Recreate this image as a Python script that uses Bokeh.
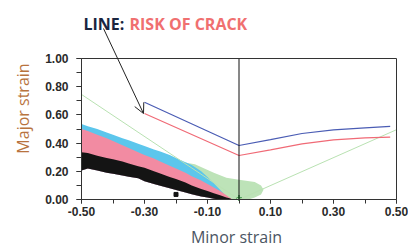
import math
from bokeh.plotting import figure
from bokeh.models import (Range1d, FixedTicker, NumeralTickFormatter, LinearAxis, Arrow, OpenHead)
from bokeh.core.properties import value
from bokeh.embed import file_html
from bokeh.resources import INLINE

# ---------------- data ----------------
blue_x = [-0.30, 0.00, 0.10, 0.20, 0.30, 0.40, 0.48]
blue_y = [0.69, 0.383, 0.425, 0.468, 0.494, 0.508, 0.518]
red_x = [-0.30, 0.00, 0.10, 0.20, 0.30, 0.40, 0.48]
red_y = [0.61, 0.312, 0.352, 0.395, 0.423, 0.437, 0.442]

green_line_x = [-0.50, 0.00, 0.50]
green_line_y = [0.745, 0.0, 0.495]

# measured point clouds (edges), on a common minor-strain grid
cloud_x = [-0.50, -0.48, -0.45, -0.42, -0.40, -0.37, -0.35, -0.32, -0.30, -0.27, -0.25,
           -0.22, -0.20, -0.17, -0.15, -0.12, -0.10, -0.08, -0.06, -0.04, -0.03, -0.02]
cyan_top = [0.535, 0.52, 0.50, 0.475, 0.46, 0.435, 0.42, 0.395, 0.38, 0.355, 0.34,
            0.315, 0.295, 0.265, 0.245, 0.20, 0.16, 0.115, 0.07, 0.02, 0.005, 0.0]
pink_top = [0.50, 0.485, 0.46, 0.435, 0.415, 0.385, 0.365, 0.335, 0.315, 0.29, 0.27,
            0.24, 0.22, 0.19, 0.165, 0.135, 0.11, 0.085, 0.06, 0.03, 0.015, 0.0]
black_top = [0.335, 0.33, 0.31, 0.295, 0.285, 0.27, 0.255, 0.235, 0.225, 0.20, 0.185,
             0.16, 0.145, 0.12, 0.10, 0.075, 0.06, 0.045, 0.03, 0.015, 0.008, 0.0]
black_bot = [0.205, 0.22, 0.205, 0.19, 0.182, 0.17, 0.162, 0.15, 0.13, 0.11, 0.098,
             0.08, 0.068, 0.05, 0.037, 0.022, 0.014, 0.006, 0.0, 0.0, 0.0, 0.0]
stray_x = [-0.20]
stray_y = [0.036]

blob_x = [-0.19, -0.14, -0.08, -0.04, 0.00, 0.05, 0.07, 0.078, 0.07, 0.05, 0.03, -0.05]
blob_y = [0.27, 0.25, 0.19, 0.155, 0.14, 0.125, 0.10, 0.07, 0.035, 0.015, 0.0, 0.0]
mark_x = [0.0]
mark_y = [0.01]

divider_x = [0.0]
divider_y0 = [0.0]
divider_y1 = [1.0]

x_lim = (-0.5, 0.5)
y_lim = (0.0, 1.0)
x_ticks = [-0.5, -0.3, -0.1, 0.1, 0.3, 0.5]
x_minor = [-0.5, -0.4, -0.3, -0.2, -0.1, 0.0, 0.1, 0.2, 0.3, 0.4, 0.5]
y_ticks = [0.0, 0.2, 0.4, 0.6, 0.8, 1.0]
y_minor = [0.0, 0.1, 0.2, 0.3, 0.4, 0.5, 0.6, 0.7, 0.8, 0.9, 1.0]

title_a = "LINE:"
title_b = "RISK OF CRACK"
x_title = "Minor strain"
y_title = "Major strain"

# ---------------- layout (pixels -> data) ----------------
W, H = 408, 246
FL, FR, FT, FB = 81, 396, 58, 199     # chart box in pixels
sx = (x_lim[1] - x_lim[0]) / (FR - FL)
sy = (y_lim[1] - y_lim[0]) / (FB - FT)
def dx(px):
    return x_lim[0] + (px - FL) * sx
def dy(py):
    return y_lim[0] + (FB - py) * sy

p = figure(width=W, height=H, output_backend="svg", toolbar_location=None,
           x_range=Range1d(dx(0), dx(W)), y_range=Range1d(dy(H), dy(0)),
           x_axis_location=None, y_axis_location=None, min_border=0)
p.background_fill_color = "white"
p.border_fill_color = "white"
p.outline_line_color = None
p.grid.visible = False

# clouds
p.patch(blob_x, blob_y, fill_color="#bde3b8", line_color=None)
p.varea(x=cloud_x, y1=black_bot, y2=cyan_top, fill_color="#5cc6ec")
p.varea(x=cloud_x, y1=black_bot, y2=pink_top, fill_color="#f28ba2")
p.varea(x=cloud_x, y1=black_bot, y2=black_top, fill_color="#141414")
p.scatter(stray_x, stray_y, marker="square", size=4, color="#141414")
p.scatter(mark_x, mark_y, marker="cross", size=6, color="#2e8b3a", line_width=1.5)

# lines
p.line(green_line_x, green_line_y, line_color="#b9e2b2", line_width=1)
p.line(blue_x, blue_y, line_color="#4a5cb4", line_width=1.2)
p.line(red_x, red_y, line_color="#f06a76", line_width=1.2)
p.segment(x0=divider_x, y0=divider_y0, x1=divider_x, y1=divider_y1, line_color="#111111", line_width=1)

# axes at fixed locations forming the chart box
def style(ax):
    ax.axis_line_color = "#333333"
    ax.major_tick_line_color = "#333333"
    ax.minor_tick_line_color = "#333333"
    ax.major_label_text_font = "Liberation Sans"
    ax.major_label_text_font_style = "bold"
    ax.major_label_text_font_size = "12px"
    ax.major_label_text_color = "#2a2a2a"
    ax.formatter = NumeralTickFormatter(format="0.00")

xa = LinearAxis(fixed_location=y_lim[0], bounds=x_lim,
                ticker=FixedTicker(ticks=x_ticks, minor_ticks=x_minor))
style(xa)
xa.major_tick_out = 4
xa.major_tick_in = 0
xa.minor_tick_out = 4
xa.minor_tick_in = 0
xa.major_label_standoff = 3
p.add_layout(xa, "below")

ya = LinearAxis(fixed_location=x_lim[0], bounds=y_lim,
                ticker=FixedTicker(ticks=y_ticks, minor_ticks=y_minor))
style(ya)
ya.major_tick_out = 5
ya.major_tick_in = 0
ya.minor_tick_out = 5
ya.minor_tick_in = 0
ya.major_label_standoff = 8
p.add_layout(ya, "left")

for loc, bnd, side in ((x_lim[1], y_lim, "right"), (y_lim[1], x_lim, "above")):
    ax = LinearAxis(fixed_location=loc, bounds=bnd, ticker=FixedTicker(ticks=[]))
    ax.axis_line_color = "#333333"
    ax.major_tick_line_color = None
    ax.minor_tick_line_color = None
    ax.major_label_text_font_size = "0px"
    p.add_layout(ax, side)

# axis titles
p.text(x=[dx(236)], y=[dy(236)], text=[x_title], text_align="center", text_baseline="alphabetic",
       text_font=value("Open Sans"), text_font_size="16px", text_color="#4b5563")
p.text(x=[dx(22)], y=[dy(108)], text=[y_title], angle=math.pi / 2, text_align="center",
       text_baseline="middle", text_font=value("Open Sans"), text_font_size="16px",
       text_color="#b8733e")

# title texts
p.text(x=[dx(83)], y=[dy(23)], text=[title_a], text_baseline="alphabetic",
       text_font=value("Open Sans"), text_font_style="bold", text_font_size="16px",
       text_color="#1a2540")
p.text(x=[dx(129)], y=[dy(23)], text=[title_b], text_baseline="alphabetic",
       text_font=value("Open Sans"), text_font_style="bold", text_font_size="16px",
       text_color="#f07070")

# arrow
p.add_layout(Arrow(end=OpenHead(size=10, line_width=1, line_color="#222222"),
                   x_start=dx(103), y_start=dy(28), x_end=dx(143), y_end=dy(113),
                   line_color="#222222", line_width=1))

open("out.html", "w").write(file_html(p, INLINE))
